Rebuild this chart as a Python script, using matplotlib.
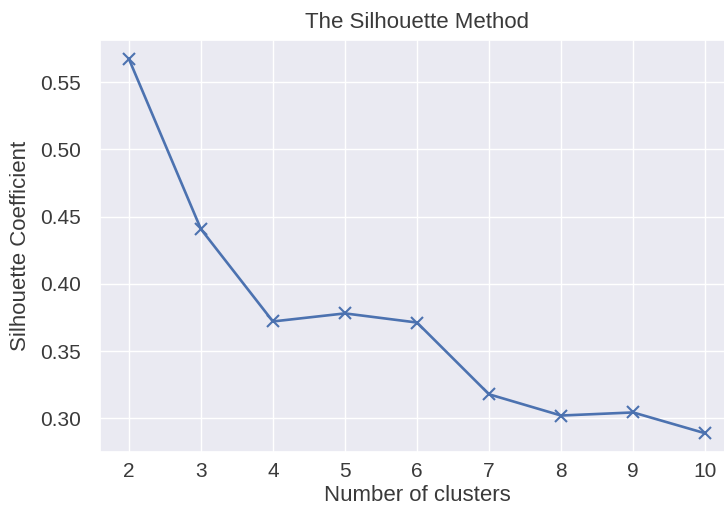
import matplotlib
matplotlib.use("Agg")
import matplotlib.pyplot as plt
import seaborn as sns

sns.set_theme(style="darkgrid")
plt.rcParams["font.family"] = ["Liberation Sans", "DejaVu Sans"]

clusters = [2, 3, 4, 5, 6, 7, 8, 9, 10]
silhouette = [0.5675, 0.4408, 0.3720, 0.3780, 0.3712, 0.3178, 0.3020, 0.3043, 0.2888]

text_color = "#3a3a3a"

fig = plt.figure(figsize=(7.24, 5.12), dpi=100)
ax = fig.add_axes([100 / 724, 60 / 512, 634 / 724, 412 / 512])
ax.plot(clusters, silhouette, marker="x", color="#4C72B0", linewidth=1.9,
        markersize=9, markeredgewidth=1.5)
ax.set_xticks(clusters)
ax.set_title("The Silhouette Method", fontsize=16, color=text_color, pad=9)
ax.set_xlabel("Number of clusters", fontsize=16, color=text_color, labelpad=3)
ax.set_ylabel("Silhouette Coefficient", fontsize=16, color=text_color, labelpad=6)
ax.tick_params(axis="both", labelsize=15, labelcolor=text_color)
ax.tick_params(axis="y", pad=8)
ax.tick_params(axis="x", pad=1)
fig.savefig("out.png", dpi=100)
